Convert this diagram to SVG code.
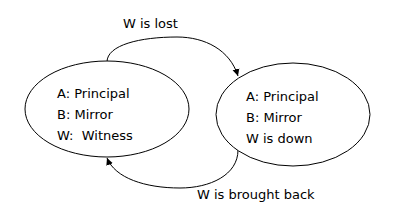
<svg xmlns="http://www.w3.org/2000/svg" width="394" height="208" viewBox="0 0 394 208">
<style>
.n{fill:#fff;stroke:#000;stroke-width:1}
.t{font-family:"DejaVu Sans",Verdana,sans-serif;font-size:13px;fill:#000}
.c{fill:none;stroke:#000;stroke-width:1}
</style>
<defs>
<marker id="ah" markerWidth="8" markerHeight="8" refX="7" refY="4" orient="auto" markerUnits="userSpaceOnUse">
<path d="M0,0.5 L7,4 L0,7.5 Z" fill="#000"/>
</marker>
</defs>
<rect width="394" height="208" fill="#fff"/>
<g id="connectors">
<path class="c" d="M107,62 C107,45 140,37 177,37 C205,37 230,50 238,76" marker-end="url(#ah)"/>
<path class="c" d="M238,150 C238,175 210,188 180,188 C145,188 115,178 107,158" marker-end="url(#ah)"/>
<text class="t" x="123" y="28">W is lost</text>
<text class="t" x="197" y="199">W is brought back</text>
</g>
<g id="node-initial">
<ellipse class="n" cx="107" cy="109" rx="82" ry="48"/>
<text class="t" x="57" y="98">A: Principal</text>
<text class="t" x="57" y="119">B: Mirror</text>
<text class="t" x="57" y="140" xml:space="preserve">W:  Witness</text>
</g>
<g id="node-down">
<ellipse class="n" cx="293" cy="114.5" rx="77" ry="51.5"/>
<text class="t" x="246" y="101">A: Principal</text>
<text class="t" x="246" y="122">B: Mirror</text>
<text class="t" x="246" y="143">W is down</text>
</g>
</svg>
